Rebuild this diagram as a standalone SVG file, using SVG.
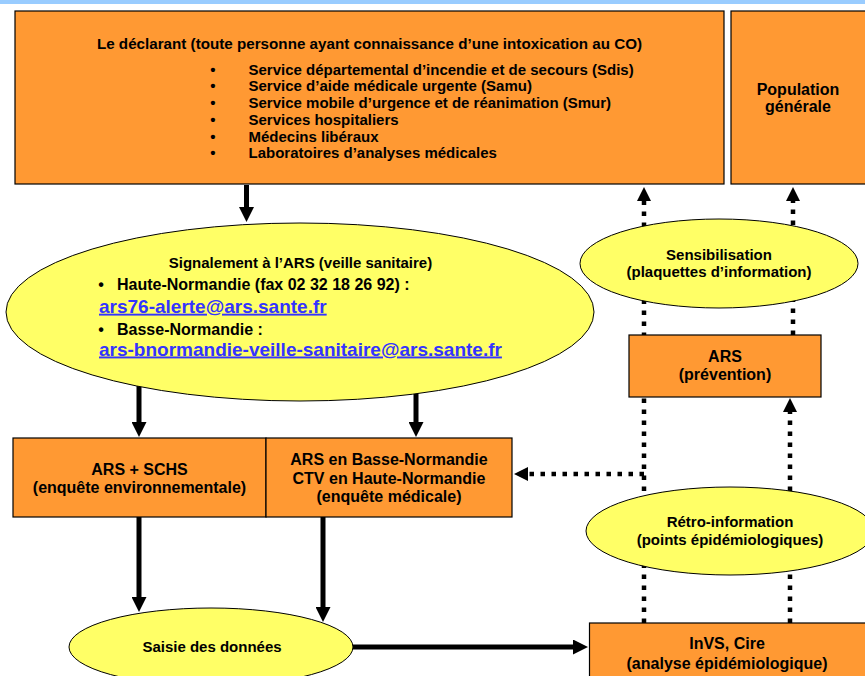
<svg xmlns="http://www.w3.org/2000/svg" width="865" height="676" viewBox="0 0 865 676">
<style>
text{font-family:"Liberation Sans",Arial,Helvetica,sans-serif;font-weight:bold;fill:#000}
.c{text-anchor:middle}
.s15{font-size:15px}
.s16{font-size:16px}
.title{font-size:15.2px}
.mail{font-size:19px;fill:#3333ff;text-decoration:underline}
.box{fill:#ff9933;stroke:#000;stroke-width:1.2}
.ell{fill:#ffff66;stroke:#000;stroke-width:1}
.solid{stroke:#000;stroke-width:5;fill:none}
.dot{stroke:#000;stroke-width:4.5;stroke-dasharray:4.5 6.5;fill:none}
</style>
<defs>
<marker id="ah" viewBox="0 0 15 15" refX="1" refY="7.5" markerWidth="15" markerHeight="15" markerUnits="userSpaceOnUse" orient="auto">
<path d="M0,0 L15,7.5 L0,15 z" fill="#000"/>
</marker>
<marker id="ahd" viewBox="0 0 14 14" refX="1" refY="7" markerWidth="14" markerHeight="14" markerUnits="userSpaceOnUse" orient="auto">
<path d="M0,0 L14,7 L0,14 z" fill="#000"/>
</marker>
</defs>
<rect x="0" y="0" width="865" height="4" fill="#99ccff"/>
<g id="connectors">
<line class="solid" x1="246.5" y1="185" x2="246.5" y2="208" marker-end="url(#ah)"/>
<line class="solid" x1="139" y1="380" x2="139" y2="423" marker-end="url(#ah)"/>
<line class="solid" x1="416" y1="380" x2="416" y2="423" marker-end="url(#ah)"/>
<line class="solid" x1="139" y1="517" x2="139" y2="598" marker-end="url(#ah)"/>
<line class="solid" x1="323" y1="517" x2="323" y2="608" marker-end="url(#ah)"/>
<line class="solid" x1="340" y1="647" x2="574" y2="647" marker-end="url(#ah)"/>
<line class="dot" x1="644" y1="623" x2="644" y2="200" marker-end="url(#ahd)"/>
<line class="dot" x1="793" y1="335" x2="793" y2="200" marker-end="url(#ahd)"/>
<line class="dot" x1="790" y1="623" x2="790" y2="411" marker-end="url(#ahd)"/>
<line class="dot" x1="644" y1="474" x2="527" y2="474" marker-end="url(#ahd)"/>
</g>
<g id="declarant">
<rect class="box" x="15" y="11" width="709" height="173"/>
<text class="title c" x="369.5" y="49">Le déclarant (toute personne ayant connaissance d’une intoxication au CO)</text>
<text class="s15 c" x="213" y="74.5">•</text><text class="s15" x="248.5" y="74.5">Service départemental d’incendie et de secours (Sdis)</text>
<text class="s15 c" x="213" y="91.3">•</text><text class="s15" x="248.5" y="91.3">Service d’aide médicale urgente (Samu)</text>
<text class="s15 c" x="213" y="108">•</text><text class="s15" x="248.5" y="108">Service mobile d’urgence et de réanimation (Smur)</text>
<text class="s15 c" x="213" y="124.8">•</text><text class="s15" x="248.5" y="124.8">Services hospitaliers</text>
<text class="s15 c" x="213" y="141.6">•</text><text class="s15" x="248.5" y="141.6">Médecins libéraux</text>
<text class="s15 c" x="213" y="158.4">•</text><text class="s15" x="248.5" y="158.4">Laboratoires d’analyses médicales</text>
</g>
<g id="population">
<rect class="box" x="731" y="11" width="140" height="173"/>
<text class="s16 c" x="798" y="95">Population</text>
<text class="s16 c" x="798" y="112">générale</text>
</g>
<g id="signalement">
<ellipse class="ell" cx="300" cy="312" rx="294" ry="89"/>
<text class="s15 c" x="300.5" y="268.3">Signalement à l’ARS (veille sanitaire)</text>
<text class="s16 c" x="101" y="290">•</text><text class="s16" x="117" y="290">Haute-Normandie (fax 02 32 18 26 92) :</text>
<text class="mail" x="99" y="312.7">ars76-alerte@ars.sante.fr</text>
<text class="s16 c" x="101" y="335">•</text><text class="s16" x="117" y="335">Basse-Normandie :</text>
<text class="mail" x="99" y="355.5">ars-bnormandie-veille-sanitaire@ars.sante.fr</text>
</g>
<g id="ars-schs">
<rect class="box" x="13" y="438" width="253" height="79"/>
<text class="s16 c" x="139.5" y="475">ARS + SCHS</text>
<text class="s16 c" x="139.5" y="493.3">(enquête environnementale)</text>
</g>
<g id="ars-ctv">
<rect class="box" x="266" y="438" width="246" height="79"/>
<text class="s16 c" x="389" y="465">ARS en Basse-Normandie</text>
<text class="s16 c" x="389" y="484">CTV en Haute-Normandie</text>
<text class="s16 c" x="389" y="501.7">(enquête médicale)</text>
</g>
<g id="saisie">
<ellipse class="ell" cx="211" cy="647" rx="142" ry="39"/>
<text class="s15 c" x="212" y="651.7">Saisie des données</text>
</g>
<g id="sensibilisation">
<ellipse class="ell" cx="719" cy="263.5" rx="139" ry="44.5"/>
<text class="s15 c" x="719" y="260">Sensibilisation</text>
<text class="s15 c" x="719" y="277">(plaquettes d’information)</text>
</g>
<g id="ars-prevention">
<rect class="box" x="629" y="335" width="192" height="62"/>
<text class="s16 c" x="725" y="361.7">ARS</text>
<text class="s16 c" x="725" y="380">(prévention)</text>
</g>
<g id="retro">
<ellipse class="ell" cx="730" cy="531" rx="144" ry="44"/>
<text class="s15 c" x="730" y="527">Rétro-information</text>
<text class="s15 c" x="730" y="545">(points épidémiologiques)</text>
</g>
<g id="invs">
<rect class="box" x="589.5" y="623" width="280" height="60"/>
<text class="s16 c" x="727" y="648.5">InVS, Cire</text>
<text class="s16 c" x="727" y="669">(analyse épidémiologique)</text>
</g>
</svg>
